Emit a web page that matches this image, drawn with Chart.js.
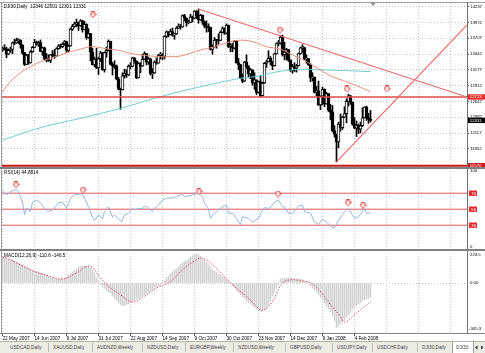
<!DOCTYPE html>
<html><head><meta charset="utf-8">
<script src="https://cdn.jsdelivr.net/npm/chart.js@4.4.1/dist/chart.umd.min.js"></script>
<style>
html,body{margin:0;padding:0;background:#fff;overflow:hidden}
#wrap{position:relative;width:485px;height:353px;background:#fff}
#wrap canvas{position:absolute;left:0}
.ln{position:absolute}
#tabs{position:absolute;left:0;top:341px;width:485px;height:12px;background:#ecebe4;overflow:hidden;border-top:1px solid #b4b4ac;box-sizing:border-box}
#tabin{position:absolute;left:0;top:0;width:970px;height:24px;transform:scale(0.5);transform-origin:0 0;font-family:"Liberation Sans",Arial,sans-serif;font-size:9.4px;color:#444}
.tab{position:absolute;top:5px;white-space:nowrap}
.sep{position:absolute;top:2px;width:2px;height:18px;background:#bcbcb4}
.act{position:absolute;top:0;height:22px;background:#fff;border-left:2px solid #999;border-right:2px solid #999}
.arr{position:absolute;top:7px;width:0;height:0;border-top:4px solid transparent;border-bottom:4px solid transparent}
</style></head>
<body><div id="wrap">
<canvas id="c1" width="485" height="168" style="top:0"></canvas>
<canvas id="c2" width="485" height="82" style="top:168px"></canvas>
<canvas id="c3" width="485" height="91" style="top:250px"></canvas>
<div class="ln" style="left:0;top:2px;width:485px;height:1px;background:#a0a0a0"></div>
<div class="ln" style="left:1px;top:2px;width:1px;height:331px;background:#a0a0a0"></div>
<div class="ln" style="left:467px;top:2px;width:1px;height:331px;background:#707070"></div>
<div class="ln" style="left:0;top:167px;width:485px;height:2px;background:#808080"></div>
<div class="ln" style="left:0;top:249px;width:485px;height:2px;background:#808080"></div>
<div class="ln" style="left:0;top:333px;width:485px;height:1px;background:#808080"></div>
<div id="tabs"><div id="tabin"></div></div>
</div>
<script>
const F = '"Liberation Sans", Arial, sans-serif';
const X_MIN = -0.25, X_MAX = 232.25;

// ---- x axis labels ----
const dateLabels = ['22 May 2007','14 Jun 2007','9 Jul 2007','31 Jul 2007','22 Aug 2007','14 Sep 2007','9 Oct 2007','30 Oct 2007','23 Nov 2007','14 Dec 2007','9 Jan 2008','4 Feb 2008'];
const dateTickIdx = [0,16,32,48,64,80,96,112,128,144,160,176];
const gridIdx = [0,16,32,48,64,80,96,112,128,144,160,176,192,208,224];

// ---- price data (OHLC) ----
const opens = [13510,13540,13526,13441,13507,13521,13633,13628,13668,13676,
13595,13466,13267,13424,13295,13482,13554,13639,13613,13635,
13489,13546,13360,13352,13338,13428,13422,13409,13535,13577,
13566,13612,13650,13502,13578,13862,13907,13951,13972,13918,
14000,13851,13943,13717,13785,13474,13265,13358,13212,13362,
13463,13182,13469,13504,13658,13271,13240,13237,13029,12861,
12846,13079,13121,13091,13236,13236,13379,13322,13042,13289,
13239,13358,13449,13305,13363,13113,13128,13308,13292,13425,
13443,13403,13739,13816,13767,13820,13759,13779,13878,13913,
13896,14088,14047,13968,13974,14066,14044,14165,14079,14015,
14093,13985,13913,13893,13889,13522,13567,13676,13675,13672,
13807,13870,13792,13930,13568,13595,13543,13661,13300,13266,
13043,12988,13307,13231,13110,13177,12958,13010,12799,12981,
12743,12958,13289,13312,13372,13315,13249,13445,13620,13626,
13727,13433,13474,13518,13340,13167,13232,13207,13246,13451,
13549,13552,13360,13366,13265,13044,13057,12800,12827,12589,
12735,12853,12606,12778,12501,12466,12159,12099,11971,12270,
12207,12384,12443,12650,12743,12635,12265,12200,12247,12182,
12240,12373,12552,12377,12346];
const highs = [13560,13600,13560,13530,13560,13645,13690,13710,13700,13680,
13600,13470,13440,13440,13500,13570,13690,13660,13660,13680,
13560,13560,13450,13430,13440,13500,13520,13550,13600,13610,
13630,13670,13660,13600,13880,13940,13980,14030,13980,14020,
14010,13990,13950,13870,13790,13540,13390,13540,13390,13490,
13470,13480,13560,13680,13660,13300,13330,13260,13050,12870,
13130,13190,13180,13260,13300,13390,13380,13330,13300,13300,
13440,13480,13450,13390,13370,13200,13330,13380,13440,13470,
13450,13750,13830,13820,13860,13880,13790,13900,13950,13940,
14100,14110,14050,14010,14110,14080,14170,14170,14198,14110,
14100,14000,14000,13950,13890,13600,13720,13680,13780,13830,
13900,13880,13950,13930,13620,13620,13670,13670,13370,13270,
13110,13320,13430,13250,13200,13180,13130,13010,12990,13080,
12970,13300,13340,13500,13400,13320,13460,13630,13670,13750,
13760,13640,13540,13520,13350,13270,13300,13270,13460,13560,
13600,13560,13430,13370,13280,13130,13060,12900,12990,12740,
12890,12860,12800,12780,12600,12580,12240,12100,12300,12440,
12400,12560,12690,12770,12750,12640,12380,12320,12270,12300,
12540,12560,12570,12450,12501];
const lows = [13490,13510,13380,13430,13470,13450,13600,13620,13620,13540,
13440,13250,13265,13270,13290,13470,13550,13590,13570,13480,
13420,13340,13310,13320,13300,13390,13370,13400,13520,13540,
13550,13590,13470,13480,13575,13840,13890,13900,13840,13910,
13810,13850,13690,13710,13330,13260,13230,13200,13100,13320,
13170,13140,13390,13500,13260,13090,13200,13010,12840,12518,
12840,13040,13050,13080,13200,13230,13290,13030,13040,13130,
13235,13350,13260,13270,13090,13030,13120,13270,13290,13360,
13350,13360,13720,13730,13760,13740,13690,13770,13870,13860,
13890,14000,13910,13950,13970,13980,14030,14040,13960,14010,
13940,13880,13810,13820,13510,13440,13560,13540,13610,13670,
13800,13770,13780,13550,13480,13480,13530,13290,13180,13030,
12960,12980,13200,13050,13030,12920,12850,12760,12790,12720,
12740,12950,13220,13310,13260,13180,13240,13440,13580,13610,
13410,13350,13340,13320,13150,13120,13150,13140,13240,13440,
13470,13350,13290,13250,12980,12990,12790,12740,12580,12510,
12590,12560,12600,12480,12340,12140,12050,11634,11870,12150,
12180,12380,12290,12570,12600,12250,12190,12060,12110,12120,
12230,12370,12330,12280,12301];
const closes = [13540,13526,13441,13507,13521,13633,13628,13668,13676,13595,
13466,13267,13424,13295,13482,13554,13639,13613,13635,13489,
13546,13360,13352,13338,13428,13422,13409,13535,13577,13566,
13612,13650,13502,13578,13862,13907,13951,13972,13918,14000,
13851,13943,13717,13785,13474,13265,13358,13212,13362,13463,
13182,13469,13504,13658,13271,13240,13237,13029,12861,12846,
13079,13121,13091,13236,13236,13379,13322,13042,13289,13239,
13358,13449,13305,13363,13113,13128,13308,13292,13425,13443,
13403,13739,13816,13767,13820,13759,13779,13878,13913,13896,
14088,14047,13968,13974,14066,14044,14165,14079,14015,14093,
13985,13913,13893,13889,13522,13567,13676,13675,13672,13807,
13870,13792,13930,13568,13595,13543,13661,13300,13266,13043,
12988,13307,13231,13110,13177,12958,13010,12799,12981,12743,
12958,13289,13312,13372,13315,13249,13445,13620,13626,13727,
13433,13474,13518,13340,13167,13232,13207,13246,13451,13549,
13552,13360,13366,13265,13044,13057,12800,12827,12589,12735,
12853,12606,12778,12501,12466,12159,12099,11971,12270,12207,
12384,12443,12650,12743,12635,12265,12200,12247,12182,12240,
12373,12552,12377,12348,12331];

// ---- moving averages: [barIndex, price] ----
const maSalmon = [[0,12810],[4,12980],[9,13130],[14,13230],[19,13315],[24,13372],[29,13427],[34,13482],[39,13523],[44,13566],[49,13549],[54,13523],[59,13499],[64,13456],[69,13427],[74,13410],[79,13399],[84,13399],[89,13410],[94,13456],[99,13511],[104,13549],[109,13600],[114,13650],[119,13675],[125,13650],[132,13566],[139,13523],[145,13427],[152,13315],[159,13175],[165,13063],[172,12979],[179,12885],[184,12812]];
const maCyan = [[0,12000],[19,12208],[39,12365],[59,12533],[79,12728],[99,12895],[119,13036],[129,13075],[135,13130],[144,13175],[152,13180],[162,13175],[172,13164],[184,13147]];

const priceTicks = [11852,12117,12382,12647,12912,13177,13442,13707,13972,14237];
const hLevels = [12723, 11570];
const trend1 = [[98,14198],[232.25,12723]];
const trend2 = [[167,11634],[232.25,13930]];
const mainArrows = [[45.25,14103],[138.75,13846],[172.25,12857],[192.25,12857]];

// ---- RSI ----
const rsiPts = [[0,74],[2,68],[5,73],[7,75],[8,72],[10,59],[11,43],[12,51],[14,47],[15,59],[17,61.5],[19,58],[21,51],[23,47],[25,49],[28,58],[30,59],[32,51],[34,64],[36,68],[39,69],[40,68],[41,64],[43,53],[45,40],[46,36],[48,43],[50,38],[51,47],[53,53],[55,40],[56,43],[58,38],[59.5,34],[61,43],[63,45],[65,51],[66,49],[68,51],[70,51],[71,54],[73,52],[75,47],[76,51],[78,55],[80,61.5],[82,63.7],[85,64],[87,65.7],[90,68.7],[91,65.7],[94,67],[95,68],[98,70],[100,65.7],[101,57],[103,51],[104,38.5],[105,42.6],[108,49],[110,53],[112,55],[113,45],[115,45],[117,38.5],[119,31],[120,40.5],[123,38.5],[125,34],[128,38.5],[130,49],[131,52],[133,51],[135,55],[136,59],[138,61.5],[140,53],[141,53],[143,45],[145,45],[148,54],[150,55],[151,47],[154,45],[156,34],[158,31],[160,37.5],[162,34],[164,29],[166,26.6],[168,36],[170,43.5],[171,47],[173,51],[175,42.6],[176,38.5],[178,40.5],[180,47],[181,51],[182,45],[184,44.88]];
const rsiLevels = [70,50,30];
const rsiArrows = [[6.75,80.5],[40.25,74],[98.25,72],[137.75,69],[172.75,58],[180.25,55]];
const rsiLast = '44.8814';

// ---- MACD ----
const macdMain = [195,192,188,184,180,175,170,164,157,150,
142,133,125,118,108,100,95,90,85,80,
75,68,60,52,45,40,35,32,30,30,
30,38,48,60,72,85,98,110,120,126,
130,130,128,124,118,110,80,40,15,-10,
-25,-40,-55,-65,-80,-98,-115,-132,-150,-165,
-175,-172,-165,-158,-150,-142,-134,-126,-118,-110,
-100,-92,-82,-72,-60,-50,-40,-30,-20,-10,
5,20,40,55,70,85,100,110,125,140,
155,165,170,185,200,210,218,223.5,215,205,
190,175,160,140,120,100,90,80,70,60,
50,42,30,18,0,-20,-38,-55,-72,-90,
-105,-120,-135,-148,-160,-172,-185,-198,-208,-215,
-212,-205,-195,-170,-140,-100,-70,-40,-10,30,
35,38,40,40,38,36,34,32,31,30,
25,15,5,-5,-20,-35,-52,-70,-88,-110,
-130,-152,-175,-198,-220,-250,-290,-345.3,-330,-315,
-300,-280,-262,-245,-225,-200,-185,-172,-160,-150,
-140,-130,-122,-116,-110.6];
const macdSignal = [[0,200],[2,192],[15,95],[24,51],[30,31],[37,77],[42,128],[45,120],[49,38],[54,-38],[59,-90],[65,-146],[70,-111],[77,-38],[84,12],[90,102],[97,179],[100,192],[105,141],[110,64],[115,-13],[122,-103],[127,-180],[130,-213],[135,-141],[140,0],[144,25],[149,18],[154,0],[159,-64],[164,-167],[169,-257],[171,-300],[175,-257],[179,-205],[184,-146.5]];
const macdLast = ['-110.6','-146.5'];

const yMain = [11532,14299], yRsi = [-1,101.5], yMacd = [-384,254];

// ---- tabs ----
const tabNames = ['USDCAD,Daily','XAUUSD,Daily','AUDNZD,Weekly','NZDUSD,Daily','EURGBP,Weekly','NZDUSD,Weekly','GBPUSD,Daily','USDJPY,Daily','USDCHF,Daily','DJI30,Daily','DJI30'];
const tabTextX = [10,53,97,147,190,238,290,337,377,422,456];
const tabSepX = [48,92,142,185,233,285,332,372,417];

// ================= helpers =================
const pts = a => a.map(([x,y]) => ({x, y}));
const hl = v => [{x:X_MIN,y:v},{x:X_MAX,y:v}];

function makeArrow(){
  const c = document.createElement('canvas'); c.width = 7; c.height = 7;
  const g = c.getContext('2d');
  g.beginPath();
  g.moveTo(2,0.5); g.lineTo(5,0.5); g.lineTo(5,3); g.lineTo(6.5,3); g.lineTo(3.5,6.5); g.lineTo(0.5,3); g.lineTo(2,3); g.closePath();
  g.fillStyle = '#fff'; g.fill(); g.strokeStyle = '#e23c3c'; g.lineWidth = 1; g.stroke();
  return c;
}
const arrowImg = makeArrow();

function xAxis(h, labels){
  return {type:'linear', min:X_MIN, max:X_MAX, offset:false, bounds:'data',
    afterBuildTicks: s => { s.ticks = gridIdx.map(v => ({value:v})); },
    afterFit: s => { s.height = h; s.paddingLeft = 0; s.paddingRight = 0; },
    grid:{color:'#c8c8c8', lineWidth:1, offset:false, drawTicks:labels, tickLength:3, tickWidth:1,
      tickColor: c => (c.tick && dateTickIdx.includes(c.tick.value)) ? '#555' : 'rgba(0,0,0,0)'},
    border:{display:false, dash:[1,2]},
    ticks:{display:labels, autoSkip:false, maxRotation:0, minRotation:0, align:'start', padding:0, color:'#000',
      font:{family:F, size:4.7},
      callback: v => { const k = dateTickIdx.indexOf(v); return k >= 0 ? dateLabels[k] : ''; }}};
}
function yAxis(range, ticksArr, showLabels, gridOn){
  return {position:'right', min:range[0], max:range[1], bounds:'data',
    afterBuildTicks: s => { if (ticksArr) s.ticks = ticksArr.map(v => ({value:v})); },
    afterFit: s => { s.width = 18; s.paddingTop = 0; s.paddingBottom = 0; },
    grid:{display:gridOn, color:'#c8c8c8', drawTicks:showLabels, tickLength:2, tickColor:'#555'},
    border:{display:false, dash:[1,2]},
    ticks:{display:showLabels, padding:1, color:'#000', font:{family:F, size:4.3}, callback: v => String(v)}};
}
function common(padTop){
  return {responsive:false, animation:false, devicePixelRatio:1, events:[],
    layout:{padding:{left:2, top:padTop, right:0, bottom:0}, autoPadding:false},
    plugins:{legend:{display:false}, tooltip:{enabled:false}}};
}
function box(ctx, y, txt, bg, x0, w){
  ctx.fillStyle = bg; ctx.fillRect(x0, y - 2.7, w, 5.4);
  ctx.fillStyle = '#fff'; ctx.fillText(txt, x0 + 2.3, y + 0.3);
}

// ================= main chart =================
const mainOverlay = {id:'mainOverlay', afterDraw(chart){
  const ctx = chart.ctx, y = chart.scales.y, x = chart.scales.x;
  ctx.save();
  ctx.textBaseline = 'middle'; ctx.textAlign = 'left';
  ctx.font = '4.7px ' + F; ctx.fillStyle = '#000';
  const n = closes.length - 1;
  ctx.fillText('DJI30,Daily  ' + [opens[n], highs[n], lows[n], closes[n]].join(' '), 3.5, 7);
  ctx.font = '4.3px ' + F;
  box(ctx, y.getPixelForValue(hLevels[0]), String(hLevels[0]), '#e52b2b', 467.5, 17.5);
  box(ctx, y.getPixelForValue(closes[n]), String(closes[n]), '#000', 467.5, 17.5);
  box(ctx, y.getPixelForValue(hLevels[1]), String(hLevels[1]), '#d01818', 467.5, 17.5);
  const sx = x.getPixelForValue(185.25);
  ctx.fillStyle = '#909090'; ctx.beginPath(); ctx.moveTo(sx - 2.5, 3); ctx.lineTo(sx + 2.5, 3); ctx.lineTo(sx, 6); ctx.closePath(); ctx.fill();
  ctx.restore();
}};

const TREND = '#ee6868';
new Chart(document.getElementById('c1'), {
  type:'bar',
  data:{datasets:[
    {type:'line', data:pts(mainArrows), showLine:false, pointStyle:arrowImg, pointRadius:3, order:1},
    {type:'line', data:pts(trend1), borderColor:TREND, backgroundColor:TREND, borderWidth:1.1, pointRadius:0, order:2},
    {type:'line', data:pts(trend2), borderColor:TREND, backgroundColor:TREND, borderWidth:1.1, pointRadius:0, order:2},
    {type:'line', data:hl(hLevels[0]), borderColor:'#e44848', borderWidth:1.3, pointRadius:0, order:3},
    {type:'line', data:hl(hLevels[1]), borderColor:'#c81818', borderWidth:2, pointRadius:0, order:3},
    {type:'line', data:pts(maSalmon), borderColor:'#e68c76', borderWidth:1, pointRadius:0, tension:0.4, order:4},
    {type:'line', data:pts(maCyan), borderColor:'#70cccc', borderWidth:1, pointRadius:0, tension:0.4, order:5},
    {type:'bar', data:opens.map((o,i) => ({x:i, y:[o, closes[i]]})), barThickness:3, grouped:false, borderSkipped:false,
      borderWidth:1, borderColor:'#000', minBarLength:1, order:6,
      backgroundColor: c => closes[c.dataIndex] >= opens[c.dataIndex] ? '#fff' : '#000'},
    {type:'bar', data:opens.map((o,i) => ({x:i, y:[lows[i], highs[i]]})), barThickness:1, grouped:false,
      backgroundColor:'#000', borderWidth:0, order:7}
  ]},
  options:Object.assign(common(3), {scales:{x:xAxis(0,false), y:yAxis(yMain, priceTicks, true, true)}}),
  plugins:[mainOverlay]
});

// ================= RSI chart =================
const rsiOverlay = {id:'rsiOverlay', afterDraw(chart){
  const ctx = chart.ctx, y = chart.scales.y;
  ctx.save(); ctx.textBaseline = 'middle'; ctx.textAlign = 'left';
  ctx.font = '4.7px ' + F; ctx.fillStyle = '#000';
  ctx.fillText('RSI(14) ' + rsiLast, 4, 4.5);
  ctx.font = '4.3px ' + F;
  ctx.fillText('100', 470, y.getPixelForValue(100) + 1.8);
  ctx.fillText('0', 470, y.getPixelForValue(0) - 2.5);
  rsiLevels.forEach(v => box(ctx, y.getPixelForValue(v), String(v), '#e52b2b', 469, 8));
  ctx.restore();
}};
new Chart(document.getElementById('c2'), {
  type:'line',
  data:{datasets:[
    {data:pts(rsiArrows), showLine:false, pointStyle:arrowImg, pointRadius:3, order:1},
    {data:pts(rsiPts), borderColor:'#94b6e4', borderWidth:1, pointRadius:0, tension:0, order:2},
    ...rsiLevels.map(v => ({data:hl(v), borderColor:'#e05858', borderWidth:1, pointRadius:0, order:3}))
  ]},
  options:Object.assign(common(0), {scales:{x:xAxis(0,false), y:yAxis(yRsi, null, false, false)}}),
  plugins:[rsiOverlay]
});

// ================= MACD chart =================
const macdOverlay = {id:'macdOverlay', afterDraw(chart){
  const ctx = chart.ctx, y = chart.scales.y;
  const mx = Math.max(...macdMain), mn = Math.min(...macdMain);
  ctx.save(); ctx.textBaseline = 'middle'; ctx.textAlign = 'left';
  ctx.font = '4.7px ' + F; ctx.fillStyle = '#000';
  ctx.fillText('MACD(12,26,9) ' + macdLast.join(' '), 4, 6);
  ctx.font = '4.3px ' + F;
  ctx.fillText(mx.toFixed(1), 470, y.getPixelForValue(mx) + 0.5);
  ctx.fillText('0.00', 470, y.getPixelForValue(0));
  ctx.fillText(mn.toFixed(1), 469, y.getPixelForValue(mn) + 1);
  ctx.restore();
}};
new Chart(document.getElementById('c3'), {
  type:'bar',
  data:{datasets:[
    {type:'line', data:pts(macdSignal), borderColor:'#e0506a', borderWidth:1, borderDash:[1.5,1.5], pointRadius:0, tension:0.4, order:1},
    {type:'bar', data:macdMain.map((v,i) => ({x:i, y:v})), barThickness:1, grouped:false, backgroundColor:'#d2d2d2', borderWidth:0, order:2}
  ]},
  options:Object.assign(common(0), {scales:{x:xAxis(8,true), y:yAxis(yMacd, [0], false, true)}}),
  plugins:[macdOverlay]
});

// ================= tab bar =================
const tabin = document.getElementById('tabin');
const act = document.createElement('div'); act.className = 'act'; act.style.left = (452*2) + 'px'; act.style.width = (20*2) + 'px'; tabin.appendChild(act);
tabNames.forEach((t,i) => { const s = document.createElement('span'); s.className = 'tab'; s.textContent = t; s.style.left = (tabTextX[i]*2) + 'px'; tabin.appendChild(s); });
tabSepX.forEach(x => { const d = document.createElement('div'); d.className = 'sep'; d.style.left = (x*2) + 'px'; tabin.appendChild(d); });
const a1 = document.createElement('div'); a1.className = 'arr'; a1.style.left = (475*2) + 'px'; a1.style.borderRight = '5px solid #333'; tabin.appendChild(a1);
const a2 = document.createElement('div'); a2.className = 'arr'; a2.style.left = (481*2) + 'px'; a2.style.borderLeft = '5px solid #333'; tabin.appendChild(a2);
</script>
</body></html>
